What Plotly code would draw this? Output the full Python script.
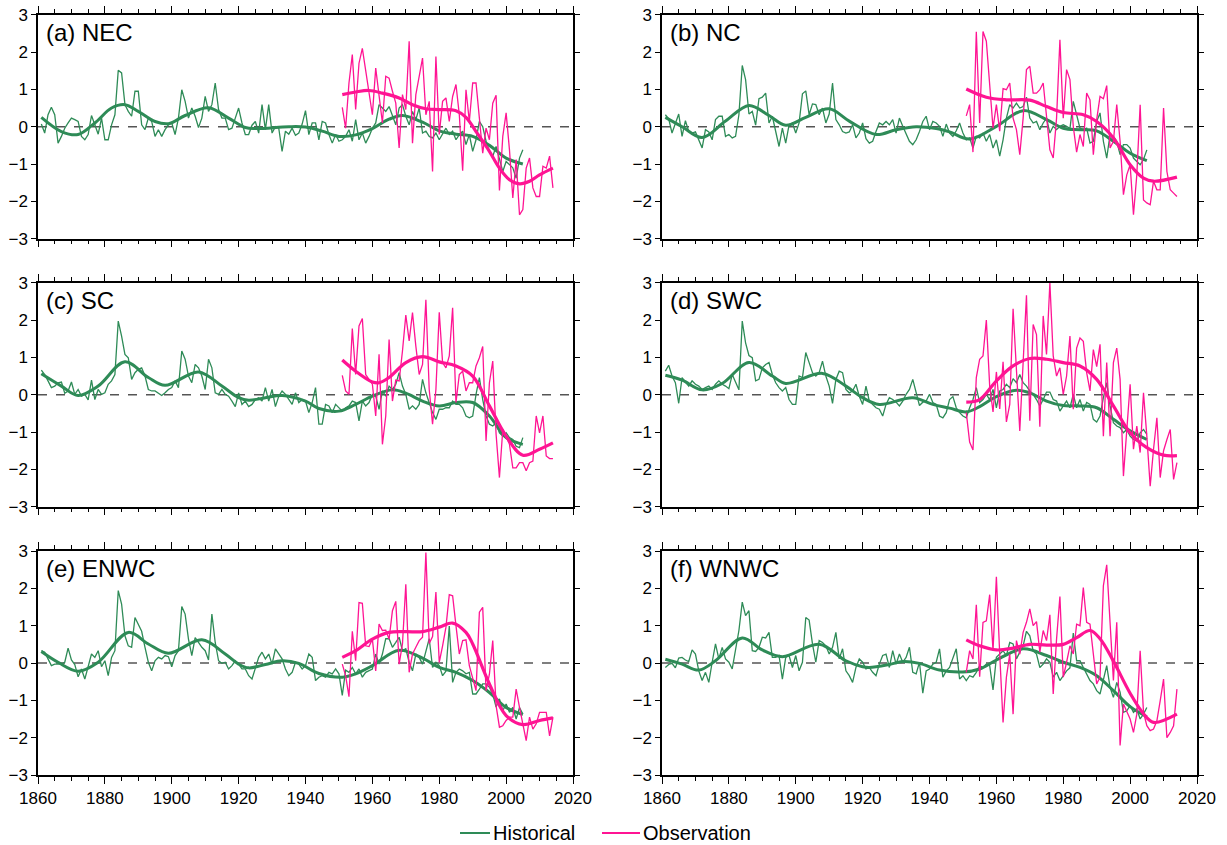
import plotly.graph_objects as go
from plotly.subplots import make_subplots

# ---------------- data ----------------
YEARS_HIST = list(range(1861, 2006))
YEARS_OBS = list(range(1951, 2015))
PANEL_LABELS = ["(a) NEC", "(b) NC", "(c) SC", "(d) SWC", "(e) ENWC", "(f) WNWC"]
SERIES_NAMES = ["Historical", "Observation"]
X_TICKS = [1860, 1880, 1900, 1920, 1940, 1960, 1980, 2000, 2020]
Y_TICKS = [-3, -2, -1, 0, 1, 2, 3]

hist_a = [0.07, -0.17, 0.32, 0.52, 0.32, -0.44, -0.26, -0.04, 0.10, 0.23,
          0.19, 0.14, -0.26, -0.35, -0.21, 0.30, 0.05, -0.20, 0.23, -0.35,
          -0.35, 0.05, 0.32, 1.51, 1.44, 0.59, 0.41, 0.28, 0.95, 0.95,
          0.05, -0.08, 0.23, 0.14, -0.26, -0.08, -0.26, -0.08, 0.05, 0.10,
          -0.21, 0.23, 0.99, 0.68, 0.23, 0.50, 0.28, -0.02, 0.23, 0.81,
          0.41, 0.59, 1.17, 0.46, 0.23, 0.23, -0.08, -0.04, 0.23, 0.50,
          0.10, -0.21, -0.21, 0.04, 0.14, -0.17, 0.59, -0.08, 0.59, -0.17,
          0.00, -0.04, -0.66, -0.12, -0.20, -0.04, -0.23, -0.17, 0.07, 0.43,
          -0.21, 0.10, 0.10, -0.35, 0.14, 0.10, -0.21, -0.44, -0.21, -0.39,
          -0.35, -0.26, -0.08, -0.39, 0.19, -0.35, -0.17, -0.44, -0.26, -0.04,
          0.10, 0.59, 0.50, 0.41, 0.54, 0.32, 0.05, 0.50, 0.59, 0.28,
          0.05, 0.41, 0.19, 0.50, -0.17, -0.12, -0.26, -0.30, -0.17, -0.35,
          -0.21, -0.04, -0.21, -0.12, -0.35, -0.21, -0.12, -0.48, -0.21, -0.66,
          -0.35, 0.14, 0.00, -0.39, -0.66, -0.79, -0.53, -0.84, -1.20, -0.93,
          -1.02, -1.10, -1.38, -0.84, -0.62]
obs_a = [0.52, -0.04, 1.17, 1.93, 0.46, 1.70, 2.10, 1.48, 0.95, 0.32,
         1.57, 0.77, 0.10, 1.35, 1.30, 0.95, 0.63, -0.57, 0.86, 0.46,
         2.29, -0.44, 0.86, 1.35, 1.84, 0.32, 0.68, -1.20, 1.88, -0.21,
         0.68, 0.77, 0.14, 0.81, 1.13, 0.32, -1.18, 0.99, 0.14, 1.17,
         1.17, 0.23, -0.71, -0.04, -0.35, 0.63, 0.84, -1.71, -0.26, 0.37,
         -0.62, -1.91, -0.88, -2.36, -2.22, -1.11, -0.84, -1.64, -1.87, -1.87,
         -1.06, -1.11, -0.79, -1.64]
hs_a_x = [1861, 1867, 1872, 1877, 1882, 1886, 1890, 1895, 1899, 1904, 1911, 1917, 1922, 1925,
          1935, 1940, 1945, 1950, 1955, 1960, 1965, 1969, 1975, 1980, 1985, 1990, 1995, 2000, 2005]
hs_a_y = [0.25, -0.13, -0.21, 0.10, 0.50, 0.59, 0.41, 0.14, 0.08, 0.30, 0.51, 0.23, -0.02, -0.05,
          0.00, -0.01, -0.12, -0.26, -0.22, -0.05, 0.20, 0.30, 0.12, -0.11, -0.20, -0.26, -0.50, -0.84, -1.00]
os_a_x = [1951, 1955, 1959, 1963, 1968, 1972, 1976, 1980, 1985, 1988, 1991, 1995, 1998, 2001,
          2004, 2007, 2010, 2014]
os_a_y = [0.86, 0.93, 0.97, 0.90, 0.77, 0.59, 0.48, 0.46, 0.43, 0.25, -0.13, -0.66, -1.11, -1.42,
          -1.53, -1.46, -1.29, -1.11]

hist_b = [0.32, 0.21, -0.17, 0.10, 0.34, -0.26, 0.16, -0.13, -0.17, -0.14,
          -0.35, -0.57, -0.08, -0.14, -0.35, 0.19, 0.28, 0.28, -0.26, -0.21,
          -0.30, -0.26, 0.32, 1.64, 1.26, 0.34, 0.41, 0.04, 0.75, 0.79,
          0.90, 0.10, 0.28, -0.13, -0.53, -0.04, -0.44, 0.05, 0.10, -0.17,
          0.10, 0.88, 0.96, 0.32, 0.61, 0.59, 0.32, 0.50, 0.10, 0.34,
          1.17, 0.19, 0.05, -0.13, -0.17, -0.14, 0.05, -0.30, -0.17, 0.10,
          -0.32, -0.44, -0.39, -0.13, 0.10, 0.05, 0.14, 0.05, 0.19, -0.17,
          0.23, 0.01, -0.17, -0.39, -0.48, -0.35, -0.13, 0.14, 0.28, -0.08,
          0.14, 0.10, 0.01, -0.26, 0.07, -0.17, -0.26, -0.11, 0.10, -0.17,
          -0.35, -0.30, -0.57, -0.26, -0.30, -0.17, -0.39, -0.21, -0.57, -0.35,
          -0.79, -0.35, 0.23, 0.59, 0.50, 0.63, 0.50, 0.54, 0.79, 0.23,
          0.10, 0.14, -0.08, 0.10, 0.23, -0.17, 0.01, -0.08, 0.01, 0.05,
          0.01, -0.05, 0.68, 0.28, -0.04, -0.08, -0.04, -0.44, -0.39, 0.14,
          0.37, -0.39, -0.84, -0.21, -0.26, -0.39, -0.75, -0.48, -0.48, -0.57,
          -0.84, -0.93, -1.02, -0.88, -0.62]
obs_b = [0.29, 0.59, -0.68, 2.54, 0.10, 2.55, 2.29, 1.13, -0.04, 0.59,
         -0.12, 1.02, 0.99, 1.17, 0.23, -0.08, -0.75, 0.23, 1.53, 1.62,
         0.90, 0.90, 0.99, 1.17, 0.23, -0.62, -0.84, 0.23, 2.33, 0.23,
         1.53, 1.26, 0.01, -0.68, -0.21, -0.53, 0.90, 0.72, -0.75, 0.19,
         0.81, 0.75, 1.10, -0.57, -0.39, 0.59, -0.39, -1.82, -1.29, -1.02,
         -2.36, -1.29, 0.59, -1.96, -2.04, -2.09, -1.46, -1.69, -1.69, 0.50,
         -1.20, -1.69, -1.78, -1.87]
hs_b_x = [1861, 1866, 1872, 1879, 1886, 1892, 1897, 1903, 1910, 1916, 1924, 1930, 1936, 1942,
          1946, 1952, 1960, 1968, 1975, 1980, 1985, 1990, 1995, 2000, 2005]
hs_b_y = [0.25, 0.00, -0.29, 0.15, 0.57, 0.30, 0.04, 0.25, 0.48, 0.15, -0.21, -0.08, 0.00, -0.05,
          -0.14, -0.33, 0.01, 0.43, 0.19, -0.04, -0.08, -0.11, -0.39, -0.71, -0.91]
os_b_x = [1951, 1957, 1963, 1970, 1975, 1980, 1986, 1990, 1995, 2000, 2004, 2007, 2014]
os_b_y = [1.01, 0.79, 0.72, 0.71, 0.54, 0.38, 0.32, 0.14, -0.30, -1.02, -1.38, -1.46, -1.35]

hist_c = [0.66, 0.54, 0.37, 0.19, 0.23, 0.32, 0.34, 0.04, 0.10, 0.34,
          0.01, 0.14, -0.04, 0.01, -0.14, 0.39, -0.13, 0.14, 0.01, 0.05,
          0.28, 0.37, 0.54, 1.97, 1.57, 1.08, 0.99, 0.41, 0.59, 0.68,
          0.72, 0.50, 0.14, 0.10, 0.10, 0.05, -0.02, 0.05, 0.14, 0.19,
          0.37, 0.19, 1.17, 0.95, 0.50, 0.32, 0.81, 0.72, 0.50, 0.14,
          0.95, 0.72, 0.05, 0.01, 0.14, 0.01, -0.04, -0.17, -0.32, 0.05,
          -0.26, -0.17, -0.32, -0.26, -0.13, -0.08, -0.17, 0.19, -0.17, 0.14,
          -0.32, -0.04, 0.10, 0.01, -0.13, -0.26, 0.05, -0.21, -0.13, -0.17,
          -0.48, -0.21, 0.19, -0.79, -0.79, -0.26, -0.30, -0.48, -0.26, -0.35,
          -0.44, -0.35, -0.30, -0.17, -0.21, -0.70, -0.17, -0.30, -0.21, 0.01,
          -0.04, -0.39, 0.10, -0.04, 0.23, 0.14, 0.28, 0.59, 0.23, 0.01,
          -0.39, -0.30, -0.39, -0.26, 0.41, 0.05, -0.21, -0.48, -0.66, -0.39,
          -0.39, -0.35, -0.35, -0.17, -0.26, -0.26, -0.35, -0.57, -0.62, -0.57,
          0.01, 0.46, -0.13, -0.57, -0.79, -0.84, -0.75, -1.02, -1.11, -1.02,
          -1.15, -1.20, -1.38, -1.42, -1.15]
obs_c = [0.52, 0.10, 0.01, 1.77, 0.54, 1.84, 2.04, 0.54, 0.41, 0.28,
         -0.57, 1.08, -1.33, -0.57, 1.48, -0.17, 0.39, 0.37, 1.17, 2.13,
         1.44, 2.20, 1.30, 0.54, 0.81, 2.54, 0.14, -0.79, 0.14, 2.21,
         0.86, 0.72, 1.04, 2.33, -0.21, 0.54, 0.63, 0.10, 0.32, 0.32,
         0.77, 0.99, 1.29, -1.24, 0.32, 0.90, -1.06, -2.22, -0.93, -1.15,
         -1.33, -1.96, -1.96, -1.82, -1.82, -2.04, -1.82, -1.78, -0.57, -1.02,
         -0.57, -1.64, -1.71, -1.71]
hs_c_x = [1861, 1867, 1872, 1878, 1886, 1893, 1898, 1908, 1915, 1920, 1923, 1928, 1933, 1940,
          1944, 1950, 1955, 1960, 1966, 1970, 1975, 1980, 1985, 1990, 1995, 2000, 2005]
hs_c_y = [0.56, 0.23, -0.02, 0.23, 0.88, 0.46, 0.25, 0.61, 0.23, -0.08, -0.15, -0.08, -0.02, -0.17,
          -0.37, -0.44, -0.26, -0.04, 0.13, 0.04, -0.17, -0.30, -0.21, -0.21, -0.57, -1.15, -1.33]
os_c_x = [1951, 1955, 1960, 1962, 1965, 1970, 1975, 1980, 1985, 1990, 1995, 2000, 2005, 2010, 2014]
os_c_y = [0.93, 0.63, 0.34, 0.32, 0.46, 0.86, 1.02, 0.88, 0.77, 0.50, -0.30, -1.11, -1.62, -1.46, -1.29]

hist_d = [0.63, 0.79, 0.50, 0.32, -0.23, 0.46, 0.34, 0.23, 0.37, 0.28,
          0.23, 0.14, 0.19, 0.23, 0.14, 0.28, 0.37, 0.28, 0.23, 0.16,
          0.54, 0.32, 0.13, 1.97, 1.39, 1.05, 0.99, 0.37, 0.41, 0.72,
          0.81, 0.86, 0.54, 0.32, 0.19, 0.10, 0.19, -0.13, -0.26, -0.26,
          0.50, 0.46, 1.13, 0.86, 0.59, 0.50, 0.59, 0.90, 0.50, 0.23,
          -0.23, 0.41, 0.63, 0.59, 0.14, 0.05, 0.10, 0.28, -0.04, -0.26,
          0.23, -0.17, -0.26, -0.35, -0.39, -0.57, -0.26, -0.08, -0.13, -0.20,
          -0.30, -0.17, 0.01, 0.14, 0.41, 0.05, -0.29, -0.20, -0.17, 0.01,
          -0.21, -0.26, -0.57, -0.62, -0.48, -0.13, -0.05, -0.35, -0.48, -0.57,
          -0.62, -0.35, -0.13, 0.19, -0.21, -0.13, 0.01, -0.13, 0.14, -0.35,
          0.10, 0.14, 0.28, 0.19, 0.43, 0.32, 0.54, 0.32, 0.23, 0.10,
          0.01, -0.13, -0.30, -0.13, 0.07, 0.07, -0.13, -0.17, -0.44, -0.30,
          -0.17, -0.35, 0.01, -0.35, -0.13, -0.44, -0.21, -0.26, -0.66, -0.73,
          -0.57, -0.08, 0.32, -0.30, -0.75, -0.84, -0.88, -1.02, -0.93, -1.11,
          -1.20, -1.24, -1.02, -0.93, -1.06]
obs_d = [-0.48, -1.27, -1.48, 0.46, 0.95, 1.04, 2.00, 0.23, -0.46, 0.61,
         -0.38, 0.88, -0.73, -0.26, 2.30, 0.77, -0.97, 0.86, 2.66, -0.70,
         1.88, 1.61, -0.86, 2.11, 1.08, 3.00, 1.04, 0.50, 0.72, 0.01,
         0.50, 1.57, -0.39, 1.25, 1.52, 1.43, 0.59, 0.10, 1.21, 0.75,
         1.35, -1.11, 0.86, -1.11, 0.86, 1.25, 0.41, -2.18, -0.84, 0.28,
         -1.46, -0.84, -1.55, 0.05, -1.11, -2.45, -1.46, -0.62, -2.22, -1.50,
         -1.20, -0.93, -2.27, -1.82]
hs_d_x = [1861, 1866, 1872, 1878, 1886, 1893, 1897, 1908, 1915, 1920, 1925, 1935, 1941,
          1946, 1951, 1955, 1960, 1966, 1970, 1975, 1980, 1985, 1990, 1995, 2000, 2005]
hs_d_y = [0.52, 0.39, 0.13, 0.30, 0.86, 0.50, 0.30, 0.57, 0.23, -0.08, -0.26, -0.08, -0.26,
          -0.36, -0.46, -0.32, -0.05, 0.12, 0.05, -0.17, -0.29, -0.30, -0.35, -0.66, -0.97, -1.20]
os_d_x = [1951, 1955, 1960, 1965, 1970, 1975, 1980, 1985, 1990, 1995, 2000, 2005, 2010, 2014]
os_d_y = [-0.20, -0.13, 0.37, 0.77, 0.97, 0.95, 0.86, 0.77, 0.41, -0.30, -1.02, -1.42, -1.62, -1.63]

hist_e = [0.33, 0.29, 0.11, -0.07, -0.03, -0.04, -0.03, 0.02, 0.40, 0.08,
          -0.04, -0.37, -0.16, -0.43, -0.07, 0.24, 0.15, 0.33, -0.10, 0.06,
          -0.34, 0.15, 0.33, 1.94, 1.58, 0.73, 0.46, 0.42, 1.22, 1.04,
          0.85, 0.42, 0.02, -0.21, 0.06, 0.15, 0.11, 0.20, 0.17, -0.10,
          0.20, 0.33, 1.51, 1.31, 0.64, 0.20, 0.68, 0.55, 0.42, 0.33,
          0.08, 1.31, 0.55, 0.06, -0.01, 0.02, -0.16, -0.07, 0.06, -0.03,
          -0.16, -0.16, -0.34, -0.43, -0.12, 0.15, 0.29, 0.11, 0.24, -0.03,
          0.38, 0.24, 0.11, -0.16, -0.34, -0.25, 0.02, -0.03, -0.16, -0.07,
          0.24, 0.15, -0.47, -0.38, -0.34, -0.38, -0.25, -0.29, -0.16, -0.29,
          -0.87, -0.19, -0.25, -0.12, -0.29, -0.16, -0.38, -0.25, -0.21, -0.16,
          0.24, -0.03, 0.24, 0.65, 0.65, 0.42, 0.55, 0.69, 0.33, 0.38,
          0.02, -0.21, 0.24, 0.15, -0.03, 0.33, 0.65, -0.12, 0.02, -0.07,
          -0.34, -0.22, 0.99, -0.52, -0.25, -0.16, -0.21, -0.29, -0.25, -0.83,
          -0.83, -0.70, -0.56, -0.56, -0.65, -0.83, -1.18, -0.96, -1.28, -1.10,
          -1.32, -1.19, -1.50, -1.19, -1.37]
obs_e = [-0.03, -0.34, -0.90, 0.85, 0.06, 1.62, 1.60, 0.46, 0.44, 0.64,
         -0.21, 1.04, 0.87, 0.88, 0.64, 1.40, 1.65, -0.03, 0.51, 2.11,
         -0.25, 0.24, 0.42, 0.60, 0.69, 2.96, 0.52, 0.71, 1.90, 0.02,
         0.46, 0.96, 1.83, 1.80, 1.00, 0.24, 0.60, 0.62, -0.07, -0.38,
         -0.74, 1.36, 1.49, -0.74, -0.30, 0.60, -1.14, -1.72, -1.68, -1.54,
         -1.45, -1.45, -0.70, -1.19, -1.63, -2.08, -1.45, -1.77, -1.63, -1.32,
         -1.32, -1.32, -1.95, -1.45]
hs_e_x = [1861, 1866, 1872, 1878, 1887, 1893, 1899, 1909, 1916, 1920, 1923, 1928, 1933, 1938,
          1944, 1951, 1955, 1960, 1968, 1975, 1980, 1985, 1990, 1995, 2000, 2005]
hs_e_y = [0.31, 0.02, -0.22, 0.02, 0.82, 0.51, 0.26, 0.62, 0.24, -0.03, -0.13, -0.04, 0.06, -0.01,
          -0.28, -0.38, -0.29, -0.07, 0.34, 0.13, -0.12, -0.25, -0.47, -0.79, -1.19, -1.38]
os_e_x = [1951, 1955, 1960, 1965, 1970, 1975, 1980, 1984, 1988, 1990, 1995, 2000, 2005, 2010, 2014]
os_e_y = [0.15, 0.33, 0.64, 0.82, 0.84, 0.84, 0.96, 1.07, 0.82, 0.51, -0.56, -1.41, -1.65, -1.54, -1.47]

hist_f = [-0.12, -0.04, -0.01, -0.13, 0.13, 0.15, 0.08, 0.04, 0.35, 0.24,
          -0.21, -0.47, -0.25, -0.52, 0.02, 0.51, 0.11, 0.42, 0.11, 0.02,
          -0.16, 0.33, 0.87, 1.63, 1.27, 1.40, 0.33, 0.31, 0.42, 0.69,
          0.67, 0.82, 0.15, 0.15, 0.20, -0.43, 0.15, 0.20, -0.12, 0.20,
          -0.21, 0.02, 1.22, 1.15, 0.51, 0.02, 0.60, 0.55, 0.46, 0.24,
          0.42, 0.82, 0.11, 0.38, -0.21, -0.34, -0.52, -0.12, 0.11, 0.02,
          -0.16, -0.12, -0.25, -0.34, -0.03, 0.20, 0.24, -0.12, 0.33, -0.03,
          0.24, 0.02, 0.15, 0.42, -0.25, -0.29, 0.02, -0.81, -0.21, -0.16,
          -0.03, 0.02, 0.38, -0.38, -0.21, -0.12, 0.11, 0.38, -0.43, -0.34,
          -0.47, -0.34, -0.38, -0.25, -0.07, -0.12, -0.03, -0.07, -0.72, 0.15,
          0.24, 0.33, 0.20, 0.55, 0.51, 0.11, 0.29, 0.46, 0.85, 0.73,
          0.33, 0.24, -0.12, -0.03, 0.11, 0.02, -0.38, -0.25, -0.47, -0.34,
          -0.21, -0.13, 0.80, 0.06, 0.06, -0.12, -0.29, -0.47, -0.56, -0.74,
          -0.83, -0.43, -0.07, -0.65, -0.92, -0.52, -0.78, -1.32, -1.28, -1.14,
          -1.32, -1.23, -1.50, -1.37, -1.19]
obs_f = [-0.25, 0.33, 0.11, 1.56, -0.37, 1.09, 1.13, 1.83, 0.33, 2.31,
         0.24, -1.59, -0.38, 0.24, -1.37, 0.60, 0.24, 0.82, 1.09, 1.45,
         1.00, 1.11, 0.29, 0.87, 0.60, 1.29, -0.83, 0.64, 1.78, -0.38,
         0.02, 0.46, 0.24, 1.04, 1.00, 2.02, 1.09, 1.04, 0.24, -0.56,
         -0.38, 2.07, 2.63, 0.96, -0.47, 1.09, -2.21, -1.10, -1.28, -1.50,
         -1.86, -1.37, 0.33, -1.32, -1.68, -1.81, -1.77, -1.55, -1.01, -0.43,
         -2.00, -1.86, -1.68, -0.70]
hs_f_x = [1861, 1866, 1871, 1876, 1884, 1890, 1896, 1907, 1915, 1920, 1922, 1928, 1932, 1937,
          1943, 1950, 1955, 1960, 1968, 1975, 1980, 1985, 1990, 1995, 2000, 2005]
hs_f_y = [0.10, -0.03, -0.19, 0.06, 0.67, 0.35, 0.17, 0.50, 0.06, -0.10, -0.12, -0.04, 0.04, -0.01,
          -0.19, -0.24, -0.16, 0.08, 0.38, 0.20, 0.02, -0.12, -0.34, -0.74, -1.17, -1.44]
os_f_x = [1951, 1955, 1960, 1965, 1970, 1975, 1980, 1984, 1988, 1991, 1995, 2000, 2004, 2007, 2014]
os_f_y = [0.62, 0.46, 0.35, 0.40, 0.50, 0.48, 0.50, 0.68, 0.87, 0.65, 0.05, -0.81, -1.36, -1.59, -1.37]

PANELS = [
    (hist_a, obs_a, hs_a_x, hs_a_y, os_a_x, os_a_y),
    (hist_b, obs_b, hs_b_x, hs_b_y, os_b_x, os_b_y),
    (hist_c, obs_c, hs_c_x, hs_c_y, os_c_x, os_c_y),
    (hist_d, obs_d, hs_d_x, hs_d_y, os_d_x, os_d_y),
    (hist_e, obs_e, hs_e_x, hs_e_y, os_e_x, os_e_y),
    (hist_f, obs_f, hs_f_x, hs_f_y, os_f_x, os_f_y),
]

# ---------------- style ----------------
GREEN = "#2E8B57"
PINK = "#FF1493"
FONT = "Liberation Sans, Arial, Helvetica, sans-serif"
W, H = 1227, 845
COL_PX = [(38, 573), (662, 1197)]
ROW_PX = [(14.7, 238.7), (282.7, 506.7), (551, 775)]

fig = make_subplots(rows=3, cols=2)

for i, (hist, obs, hsx, hsy, osx, osy) in enumerate(PANELS):
    r, c = i // 2 + 1, i % 2 + 1
    fig.add_trace(go.Scatter(x=YEARS_HIST, y=hist, mode="lines", name=SERIES_NAMES[0],
                             showlegend=False, line=dict(color=GREEN, width=1.3)), row=r, col=c)
    fig.add_trace(go.Scatter(x=hsx, y=hsy, mode="lines", showlegend=False,
                             line=dict(color=GREEN, width=3, shape="spline", smoothing=1.0)),
                  row=r, col=c)
    fig.add_trace(go.Scatter(x=YEARS_OBS, y=obs, mode="lines", name=SERIES_NAMES[1],
                             showlegend=False, line=dict(color=PINK, width=1.3)), row=r, col=c)
    fig.add_trace(go.Scatter(x=osx, y=osy, mode="lines", showlegend=False,
                             line=dict(color=PINK, width=3.2, shape="spline", smoothing=1.0)),
                  row=r, col=c)
    fig.add_hline(y=0, row=r, col=c, line=dict(color="#555555", width=1.4, dash="dash"),
                  layer="below")

    xa = "xaxis" if i == 0 else f"xaxis{i + 1}"
    ya = "yaxis" if i == 0 else f"yaxis{i + 1}"
    x0, x1 = COL_PX[c - 1]
    y0, y1 = ROW_PX[r - 1]
    fig.layout[xa].update(
        domain=[x0 / W, x1 / W], range=[1860, 2020], tickvals=X_TICKS, automargin=False,
        showticklabels=(r == 3), ticks="outside", ticklen=7, tickwidth=1.2,
        tickcolor="black", showline=True, linecolor="black", linewidth=1.5,
        mirror="ticks", showgrid=False, zeroline=False,
        minor=dict(dtick=5, tick0=1860, ticks="outside", ticklen=4, tickcolor="black",
                   tickwidth=1, showgrid=False),
        tickfont=dict(family=FONT, size=17, color="black"))
    fig.layout[ya].update(
        domain=[1 - y1 / H, 1 - y0 / H], range=[-3, 3], tickvals=Y_TICKS, automargin=False,
        ticks="outside", ticklen=5, tickwidth=1.2, tickcolor="black",
        showline=True, linecolor="black", linewidth=1.5, mirror="ticks",
        showgrid=False, zeroline=False,
        tickfont=dict(family=FONT, size=17, color="black"))
    xr = "x" if i == 0 else f"x{i + 1}"
    yr = "y" if i == 0 else f"y{i + 1}"
    fig.add_annotation(text=PANEL_LABELS[i], xref=f"{xr} domain", yref=f"{yr} domain",
                       x=0.012, y=0.99, xanchor="left", yanchor="top", showarrow=False,
                       font=dict(family=FONT, size=24, color="black"))

# manual legend at the bottom (drawn in paper coordinates)
LEG_Y = 1 - 833 / H
for (lx0, lx1, tx), name, col in zip([(460, 490, 492), (602, 640, 642)], SERIES_NAMES, [GREEN, PINK]):
    fig.add_shape(type="line", xref="paper", yref="paper", x0=lx0 / W, x1=lx1 / W,
                  y0=LEG_Y, y1=LEG_Y, line=dict(color=col, width=2))
    fig.add_annotation(text=name, xref="paper", yref="paper", x=tx / W, y=LEG_Y,
                       xanchor="left", yanchor="middle", showarrow=False, borderpad=0,
                       font=dict(family=FONT, size=20, color="black"))

fig.update_layout(
    template="none",
    width=W, height=H, autosize=False,
    margin=dict(l=0, r=0, t=0, b=0, pad=0),
    paper_bgcolor="white", plot_bgcolor="white",
    font=dict(family=FONT, size=17, color="black"),
    showlegend=False,
)

fig.write_html("out.html")
